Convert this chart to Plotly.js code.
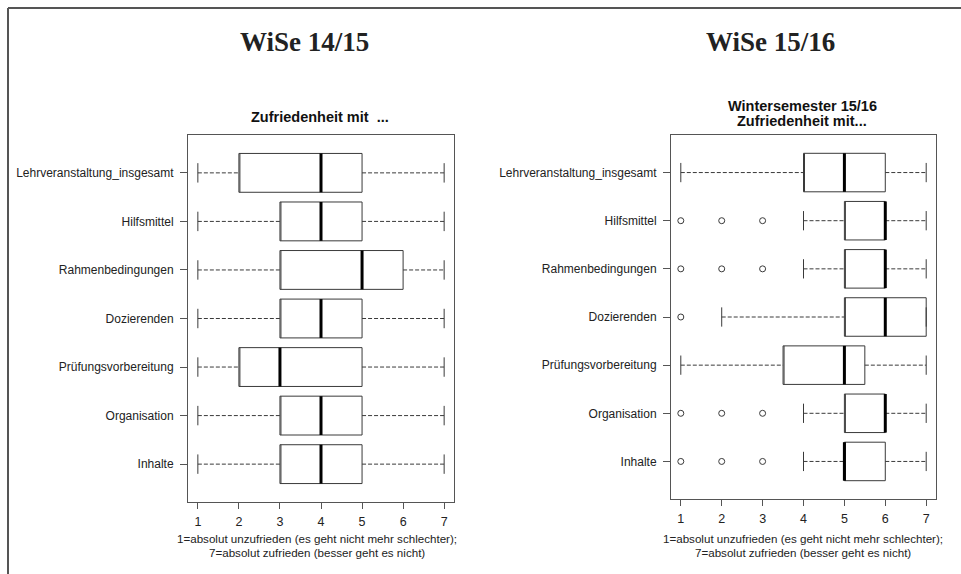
<!DOCTYPE html>
<html>
<head>
<meta charset="utf-8">
<script src="https://cdn.plot.ly/plotly-3.0.1.min.js"></script>
<style>html,body{margin:0;padding:0;background:#fff;}#chart{width:961px;height:574px;}</style>
</head>
<body>
<div id="chart"></div>
<script>
// Categories, listed top to bottom as drawn
var categories = ["Lehrveranstaltung_insgesamt", "Hilfsmittel", "Rahmenbedingungen", "Dozierenden", "Prüfungsvorbereitung", "Organisation", "Inhalte"];
var xTicks = [1, 2, 3, 4, 5, 6, 7];

// WiSe 14/15
var low1415 = [1, 1, 1, 1, 1, 1, 1];
var q1_1415 = [2, 3, 3, 3, 2, 3, 3];
var med1415 = [4, 4, 5, 4, 3, 4, 4];
var q3_1415 = [5, 5, 6, 5, 5, 5, 5];
var high1415 = [7, 7, 7, 7, 7, 7, 7];
var out1415 = [[], [], [], [], [], [], []];

// WiSe 15/16
var low1516 = [1, 4, 4, 2, 1, 4, 4];
var q1_1516 = [4, 5, 5, 5, 3.5, 5, 5];
var med1516 = [5, 6, 6, 6, 5, 6, 5];
var q3_1516 = [6, 6, 6, 7, 5.5, 6, 6];
var high1516 = [7, 7, 7, 7, 7, 7, 7];
var out1516 = [[], [1, 2, 3], [1, 2, 3], [1], [], [1, 2, 3], [1, 2, 3]];

var n = categories.length;
var pos = categories.map(function (c, i) { return n - i; });
var boxColor = "#3a3a3a";
var capHalf = 0.2;

function panelTraces(low, q1, med, q3, high, outs, xa, ya) {
  var traces = [];
  traces.push({
    type: "box", orientation: "h", xaxis: xa, yaxis: ya,
    y: pos, q1: q1, median: q1, q3: q3, lowerfence: q1, upperfence: q3,
    width: 0.8, fillcolor: "rgba(255,255,255,0)",
    line: { color: boxColor, width: 1 }, whiskerwidth: 0,
    boxpoints: false, hoverinfo: "skip", showlegend: false
  });
  // dashed whiskers
  var wx = [], wy = [];
  for (var i = 0; i < n; i++) {
    wx.push(low[i], q1[i], null, q3[i], high[i], null);
    wy.push(pos[i], pos[i], null, pos[i], pos[i], null);
  }
  traces.push({ type: "scatter", mode: "lines", xaxis: xa, yaxis: ya, x: wx, y: wy,
    line: { color: boxColor, width: 1, dash: "4px,2px" }, hoverinfo: "skip", showlegend: false });
  // staples
  var cx = [], cy = [];
  for (var j = 0; j < n; j++) {
    cx.push(low[j], low[j], null, high[j], high[j], null);
    cy.push(pos[j] - capHalf, pos[j] + capHalf, null, pos[j] - capHalf, pos[j] + capHalf, null);
  }
  traces.push({ type: "scatter", mode: "lines", xaxis: xa, yaxis: ya, x: cx, y: cy,
    line: { color: boxColor, width: 1 }, hoverinfo: "skip", showlegend: false });
  // medians
  var mx = [], my = [];
  for (var k = 0; k < n; k++) {
    mx.push(med[k], med[k], null);
    my.push(pos[k] - 0.4, pos[k] + 0.4, null);
  }
  traces.push({ type: "scatter", mode: "lines", xaxis: xa, yaxis: ya, x: mx, y: my,
    line: { color: "#000", width: 3 }, hoverinfo: "skip", showlegend: false });
  // outliers
  var ox = [], oy = [];
  for (var m = 0; m < n; m++) {
    outs[m].forEach(function (v) { ox.push(v); oy.push(pos[m]); });
  }
  if (ox.length) {
    traces.push({ type: "scatter", mode: "markers", xaxis: xa, yaxis: ya, x: ox, y: oy,
      marker: { symbol: "circle-open", size: 6, color: boxColor, line: { width: 1, color: boxColor } },
      hoverinfo: "skip", showlegend: false });
  }
  return traces;
}

var data = panelTraces(low1415, q1_1415, med1415, q3_1415, high1415, out1415, "x", "y")
  .concat(panelTraces(low1516, q1_1516, med1516, q3_1516, high1516, out1516, "x2", "y2"));

var W = 961, H = 574;
function fx(px) { return px / W; }
function fy(py) { return 1 - py / H; }

var sans = "Liberation Sans, Arial, sans-serif";
var tickFont = { family: sans, size: 12, color: "#222" };
function xAxis(d, anchor) {
  return {
    domain: d, anchor: anchor, range: [0.76, 7.24], tickvals: xTicks, ticktext: xTicks.map(String),
    ticks: "outside", ticklen: 6, tickcolor: "#555", tickwidth: 1,
    showline: true, linecolor: "#555", linewidth: 1, mirror: true,
    showgrid: false, zeroline: false, tickfont: { family: sans, size: 12.5, color: "#222" },
    ticklabelstandoff: 2, fixedrange: true
  };
}
function yAxis(d, anchor) {
  return {
    domain: d, anchor: anchor, range: [0.22, 7.78], tickvals: pos, ticktext: categories,
    ticks: "outside", ticklen: 7, tickcolor: "#555", tickwidth: 1,
    showline: true, linecolor: "#555", linewidth: 1, mirror: true,
    showgrid: false, zeroline: false, tickfont: tickFont, ticklabelstandoff: 4, fixedrange: true
  };
}

var xLab1 = "1=absolut unzufrieden (es geht nicht mehr schlechter);";
var xLab2 = "7=absolut zufrieden (besser geht es nicht)";
var serif = { family: "Liberation Serif, Times New Roman, serif", size: 27, color: "#222" };
var subFont = { family: sans, size: 14.5, color: "#111" };
var labFont = { family: sans, size: 11.6, color: "#222" };

function ann(text, x, y, font) {
  return { text: text, xref: "paper", yref: "paper", x: fx(x), y: fy(y), showarrow: false, font: font, xanchor: "center", yanchor: "middle" };
}

var layout = {
  width: W, height: H, margin: { l: 0, r: 0, t: 0, b: 0 },
  paper_bgcolor: "#fff", plot_bgcolor: "#fff", showlegend: false,
  xaxis: xAxis([fx(188), fx(454)], "y"),
  yaxis: yAxis([fy(502), fy(135)], "x"),
  xaxis2: xAxis([fx(671), fx(936)], "y2"),
  yaxis2: yAxis([fy(499), fy(135)], "x2"),
  shapes: [
    { type: "line", xref: "paper", yref: "paper", x0: fx(8), x1: 1, y0: fy(8), y1: fy(8), line: { color: "#555", width: 2 } },
    { type: "line", xref: "paper", yref: "paper", x0: fx(8), x1: fx(8), y0: fy(8), y1: 0, line: { color: "#555", width: 2 } }
  ],
  annotations: [
    ann("<b>WiSe 14/15</b>", 304, 42, serif),
    ann("<b>WiSe 15/16</b>", 770, 42, serif),
    ann("<b>Zufriedenheit mit  ...</b>", 320, 117, subFont),
    ann("<b>Wintersemester 15/16</b>", 802, 106, subFont),
    ann("<b>Zufriedenheit mit...</b>", 802, 121, subFont),
    ann(xLab1, 317, 538, labFont),
    ann(xLab2, 317, 552, labFont),
    ann(xLab1, 803, 538, labFont),
    ann(xLab2, 803, 552, labFont)
  ]
};

Plotly.newPlot("chart", data, layout, { displayModeBar: false, staticPlot: true });
</script>
</body>
</html>
